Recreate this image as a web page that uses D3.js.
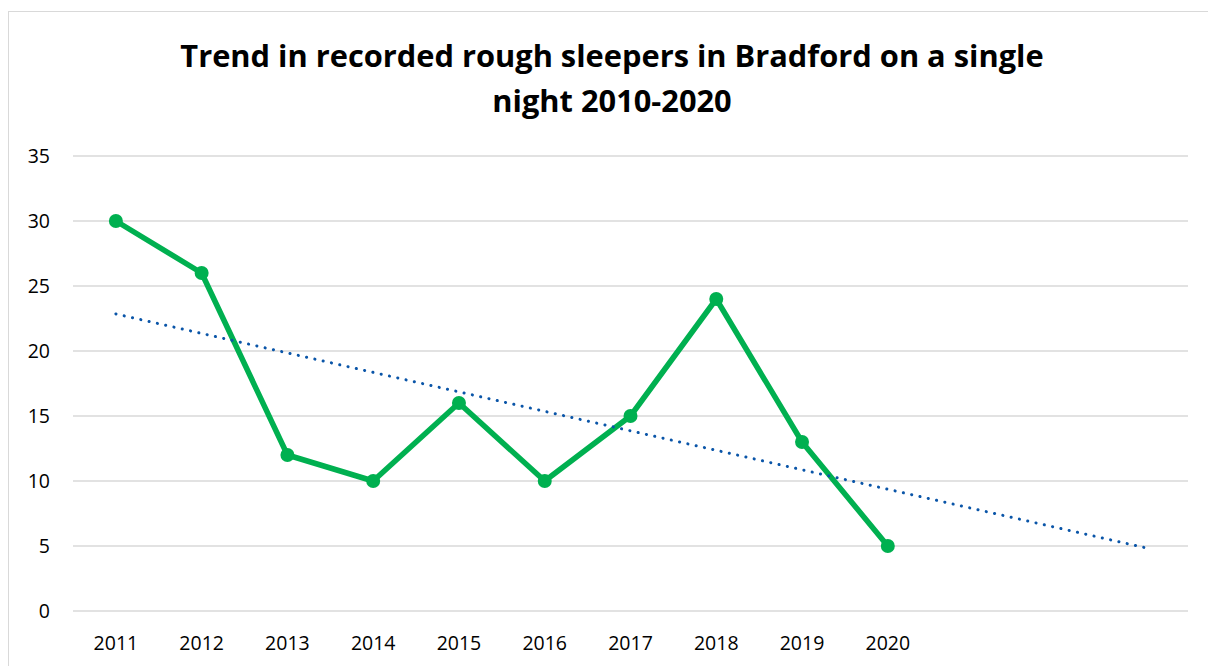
<!DOCTYPE html>
<html><head><meta charset="utf-8">
<script src="https://cdn.jsdelivr.net/npm/d3@7"></script>
<style>body{margin:0;background:#fff}svg{display:block}</style>
</head><body>
<svg id="c" width="1208" height="666"></svg>
<script>
const categories = ["2011","2012","2013","2014","2015","2016","2017","2018","2019","2020","","",""];
const sleepers = [30,26,12,10,16,10,15,24,13,5];
const trendIndex = [0,12];
const trendValues = [22.85,4.87];
const yTicks = [0,5,10,15,20,25,30,35];
const titleLines = ["Trend in recorded rough sleepers in Bradford on a single","night 2010-2020"];

const svg = d3.select("#c");
svg.append("rect").attr("x",8.5).attr("y",11.5).attr("width",1210).attr("height",670)
  .attr("fill","#fff").attr("stroke","#d9d9d9");

const x0 = 73, x1 = 1188, yTop = 156, yBot = 611;
const xb = d3.scaleBand().domain(d3.range(categories.length)).range([x0,x1]);
const xc = i => xb(i) + xb.bandwidth()/2;
const y = d3.scaleLinear().domain([0,35]).range([yBot,yTop]);

svg.append("g").selectAll("line").data(yTicks).join("line")
  .attr("x1",x0).attr("x2",x1).attr("y1",d=>y(d)).attr("y2",d=>y(d))
  .attr("stroke","#d9d9d9").attr("stroke-width",1.3);

svg.append("g").selectAll("text").data(yTicks).join("text")
  .attr("x",50).attr("y",d=>y(d)).attr("dy","0.36em").attr("text-anchor","end")
  .attr("font-family","'Open Sans', sans-serif").attr("font-size",19.5).attr("fill","#000")
  .text(d=>d);

svg.append("g").selectAll("text").data(categories).join("text")
  .attr("x",(d,i)=>xc(i)).attr("y",650).attr("text-anchor","middle")
  .attr("font-family","'Open Sans', sans-serif").attr("font-size",19.5).attr("fill","#000")
  .text(d=>d);

svg.append("g").selectAll("text").data(titleLines).join("text")
  .attr("x",612).attr("y",(d,i)=>67+i*45).attr("text-anchor","middle")
  .attr("font-family","'Open Sans', sans-serif").attr("font-weight","bold").attr("font-size",30.8)
  .attr("fill","#000").text(d=>d);

const line = d3.line().x((d,i)=>xc(i)).y(d=>y(d));
svg.append("path").datum(sleepers).attr("d",line).attr("fill","none")
  .attr("stroke","#00b050").attr("stroke-width",5.5).attr("stroke-linejoin","round");

svg.append("path").datum(trendIndex.map((t,k)=>[t,trendValues[k]]))
  .attr("d",d3.line().x(d=>xc(d[0])).y(d=>y(d[1])))
  .attr("fill","none").attr("stroke","#0a55a8").attr("stroke-width",3)
  .attr("stroke-linecap","round").attr("stroke-dasharray","0.1 8.4");

svg.append("g").selectAll("circle").data(sleepers).join("circle")
  .attr("cx",(d,i)=>xc(i)).attr("cy",d=>y(d)).attr("r",7).attr("fill","#00b050");
</script>
</body></html>
